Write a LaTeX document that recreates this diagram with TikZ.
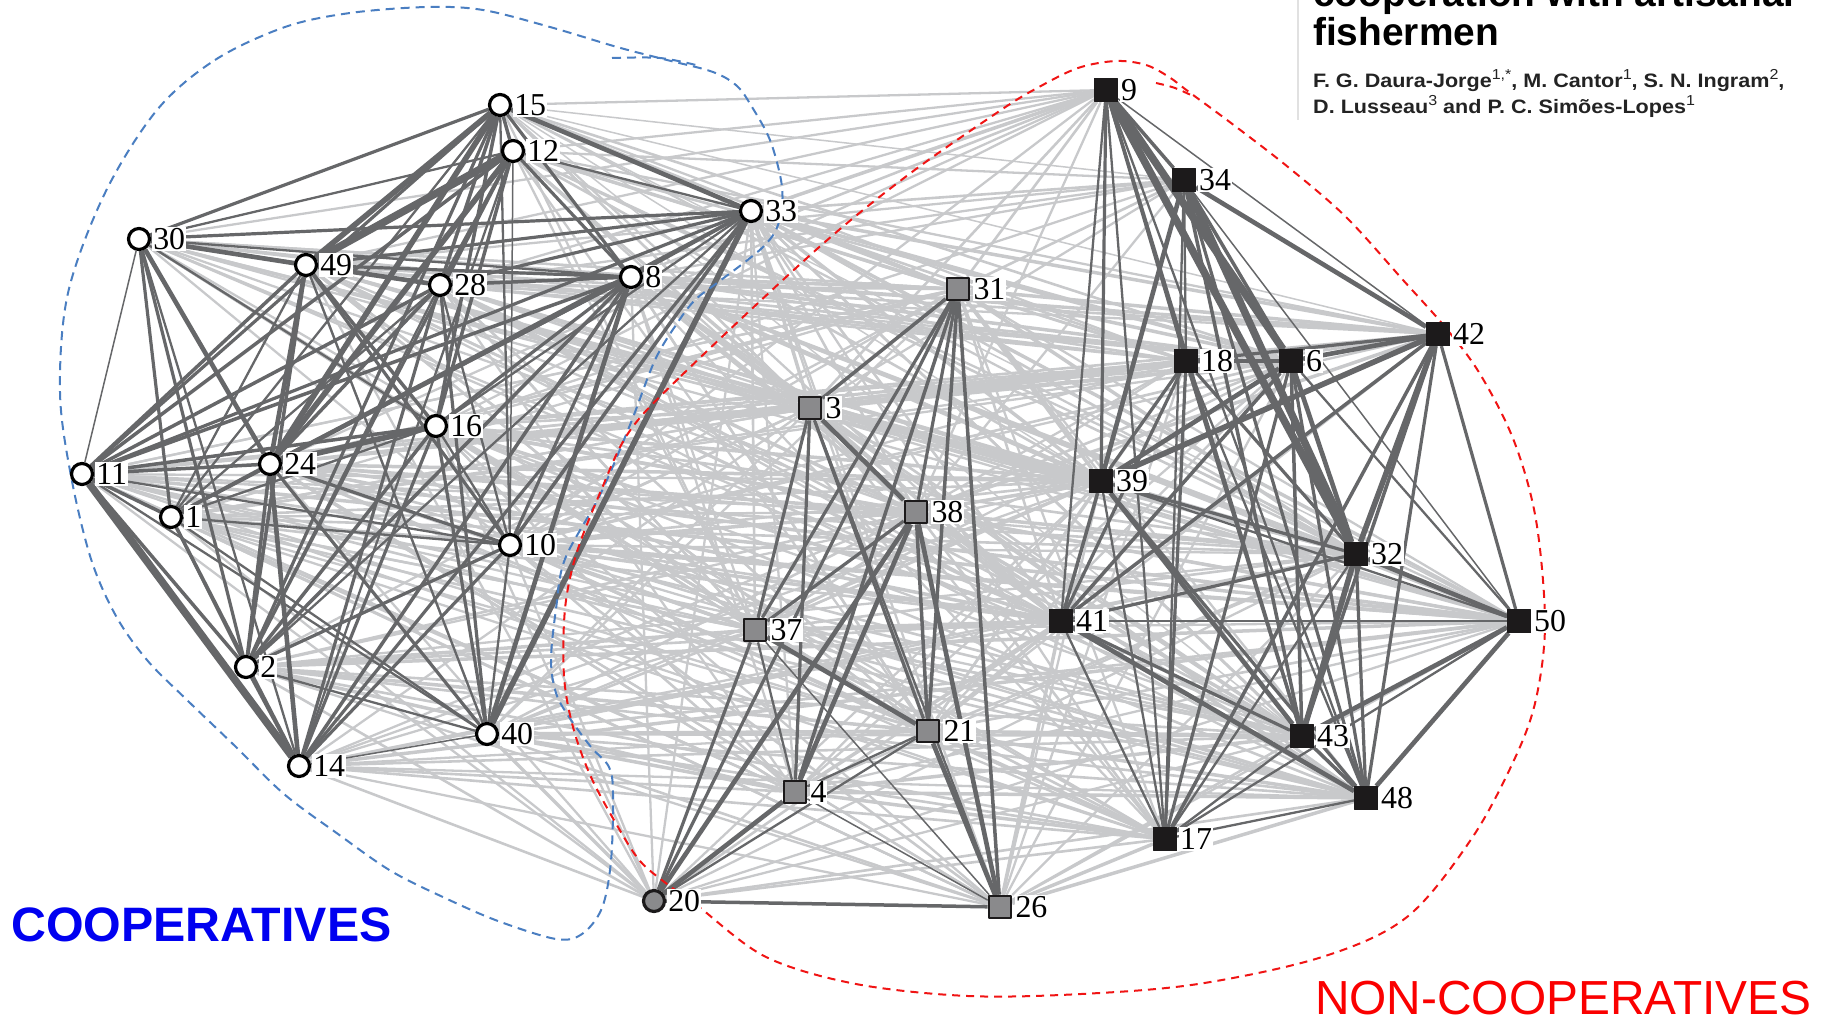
\documentclass[tikz,border=0pt]{standalone}
\usepackage{fontspec}
\setmainfont{Liberation Serif}
\newfontfamily\headfont{Liberation Sans}
\usetikzlibrary{shapes}
\definecolor{strongedge}{RGB}{102,103,105}
\definecolor{weakedge}{RGB}{200,201,203}
\definecolor{midfill}{RGB}{138,138,140}
\definecolor{nonfill}{RGB}{28,26,27}
\definecolor{coopblue}{RGB}{0,0,240}
\definecolor{noncoopred}{RGB}{250,0,0}
\definecolor{bluedash}{RGB}{74,126,193}
\definecolor{reddash}{RGB}{240,20,20}
\definecolor{rulegray}{RGB}{225,225,225}
\definecolor{authorgray}{RGB}{35,35,35}
\newcommand{\aff}[1]{\raisebox{0.4em}{\mdseries\fontsize{14.5}{14.5}\selectfont #1}}
\pgfdeclarelayer{weaklayer}
\pgfdeclarelayer{stronglayer}
\pgfsetlayers{weaklayer,stronglayer,main}

\begin{document}
\begin{tikzpicture}[x=1bp,y=-1bp,line join=bevel,
  coop/.style={circle,draw=black,fill=white,line width=3.2bp,minimum size=21bp,inner sep=0pt},
  mixed/.style={circle,draw=nonfill,fill=midfill,line width=3.2bp,minimum size=21bp,inner sep=0pt},
  midsq/.style={rectangle,draw=nonfill,fill=midfill,line width=2.6bp,minimum size=22bp,inner sep=0pt},
  nonsq/.style={rectangle,draw=nonfill,fill=nonfill,line width=1bp,minimum size=23bp,inner sep=0pt},
  labeltext/.style={anchor=west,fill=white,inner sep=1bp,font=\fontsize{32}{32}\selectfont},
  strong/.style={draw=strongedge,line width=3.2bp},
  weak/.style={draw=weakedge,line width=2.6bp},
  w1/.style={line width=1.5bp},w2/.style={line width=2.3bp},w3/.style={line width=3.5bp},
  w4/.style={line width=4.6bp},w5/.style={line width=5.6bp},w7/.style={line width=7.5bp},
  bluehull/.style={draw=bluedash,line width=2bp,dash pattern=on 9bp off 6bp},
  redhull/.style={draw=reddash,line width=2bp,dash pattern=on 8bp off 6bp},
  ]
\useasboundingbox (0,0) rectangle (1825,1023);
%% group outlines
\draw [bluehull] plot [smooth cycle,tension=0.55] coordinates {(157,110) (215,60) (285,27) (350,13) (427,7) (483,10) (550,27) (617,47) (667,60) (713,72) (737,86) (752,107) (770,140) (781,180) (782,207) (776,230) (764,246) (745,262) (717,283) (695,300) (678,322) (655,360) (630,425) (600,495) (565,559) (556,609) (551,660) (556,693) (569,717) (591,747) (609,767) (613,794) (611,861) (602,908) (582,934) (556,939) (498,921) (445,898) (391,871) (338,834) (284,794) (236,747) (187,700) (147,660) (116,616) (91,559) (71,476) (60,392) (68,293) (105,193)};
\draw [bluehull] plot [smooth,tension=0.55] coordinates {(612,58) (660,58) (700,66)};
\draw [redhull] plot [smooth cycle,tension=0.55] coordinates {(629,432) (681,376) (817,249) (908,175) (1001,110) (1039,87) (1078,68) (1116,61) (1146,65) (1169,77) (1189,92) (1231,123) (1288,167) (1346,217) (1403,280) (1445,327) (1480,374) (1514,441) (1536,520) (1545,623) (1536,699) (1515,758) (1472,838) (1407,917) (1322,957) (1198,984) (1081,994) (968,996) (856,984) (766,957) (699,907) (667,884) (640,861) (618,827) (591,777) (573,727) (564,676) (565,609) (576,555) (600,493)};
\draw [redhull] plot [smooth,tension=0.55] coordinates {(1156,83) (1175,88) (1195,97)};
%% cooperatives
\node (node_15) at (500,105) [coop] {};
  \node (node_12) at (513,151) [coop] {};
  \node (node_30) at (139,239) [coop] {};
  \node (node_49) at (306,265) [coop] {};
  \node (node_28) at (440,285) [coop] {};
  \node (node_8) at (631,277) [coop] {};
  \node (node_33) at (751,211) [coop] {};
  \node (node_16) at (436,426) [coop] {};
  \node (node_11) at (82,474) [coop] {};
  \node (node_24) at (270,464) [coop] {};
  \node (node_1) at (171,517) [coop] {};
  \node (node_10) at (510,545) [coop] {};
  \node (node_2) at (246,667) [coop] {};
  \node (node_40) at (487,734) [coop] {};
  \node (node_14) at (299,766) [coop] {};
  \node (node_20) at (654,901) [mixed] {};
%% gray squares
  \node (node_31) at (958,289) [midsq] {};
  \node (node_3) at (810,408) [midsq] {};
  \node (node_38) at (916,512) [midsq] {};
  \node (node_37) at (755,630) [midsq] {};
  \node (node_21) at (928,731) [midsq] {};
  \node (node_4) at (795,792) [midsq] {};
  \node (node_26) at (1000,907) [midsq] {};
%% black squares
  \node (node_9) at (1106,90) [nonsq] {};
  \node (node_34) at (1184,180) [nonsq] {};
  \node (node_42) at (1438,334) [nonsq] {};
  \node (node_18) at (1186,361) [nonsq] {};
  \node (node_6) at (1291,361) [nonsq] {};
  \node (node_39) at (1101,481) [nonsq] {};
  \node (node_32) at (1356,554) [nonsq] {};
  \node (node_41) at (1061,621) [nonsq] {};
  \node (node_50) at (1519,621) [nonsq] {};
  \node (node_43) at (1302,736) [nonsq] {};
  \node (node_48) at (1366,798) [nonsq] {};
  \node (node_17) at (1165,839) [nonsq] {};
%% labels
\node (label_15) at ([xshift=1bp]node_15.east) [labeltext] {15};
  \node (label_12) at ([xshift=1bp]node_12.east) [labeltext] {12};
  \node (label_30) at ([xshift=1bp]node_30.east) [labeltext] {30};
  \node (label_49) at ([xshift=1bp]node_49.east) [labeltext] {49};
  \node (label_28) at ([xshift=1bp]node_28.east) [labeltext] {28};
  \node (label_8) at ([xshift=1bp]node_8.east) [labeltext] {8};
  \node (label_33) at ([xshift=1bp]node_33.east) [labeltext] {33};
  \node (label_16) at ([xshift=1bp]node_16.east) [labeltext] {16};
  \node (label_11) at ([xshift=1bp]node_11.east) [labeltext] {11};
  \node (label_24) at ([xshift=1bp]node_24.east) [labeltext] {24};
  \node (label_1) at ([xshift=1bp]node_1.east) [labeltext] {1};
  \node (label_10) at ([xshift=1bp]node_10.east) [labeltext] {10};
  \node (label_2) at ([xshift=1bp]node_2.east) [labeltext] {2};
  \node (label_40) at ([xshift=1bp]node_40.east) [labeltext] {40};
  \node (label_14) at ([xshift=1bp]node_14.east) [labeltext] {14};
  \node (label_20) at ([xshift=1bp]node_20.east) [labeltext] {20};
  \node (label_31) at ([xshift=2bp]node_31.east) [labeltext] {31};
  \node (label_3) at ([xshift=2bp]node_3.east) [labeltext] {3};
  \node (label_38) at ([xshift=2bp]node_38.east) [labeltext] {38};
  \node (label_37) at ([xshift=2bp]node_37.east) [labeltext] {37};
  \node (label_21) at ([xshift=2bp]node_21.east) [labeltext] {21};
  \node (label_4) at ([xshift=2bp]node_4.east) [labeltext] {4};
  \node (label_26) at ([xshift=2bp]node_26.east) [labeltext] {26};
  \node (label_9) at ([xshift=2bp]node_9.east) [labeltext] {9};
  \node (label_34) at ([xshift=2bp]node_34.east) [labeltext] {34};
  \node (label_42) at ([xshift=2bp]node_42.east) [labeltext] {42};
  \node (label_18) at ([xshift=2bp]node_18.east) [labeltext] {18};
  \node (label_6) at ([xshift=2bp]node_6.east) [labeltext] {6};
  \node (label_39) at ([xshift=2bp]node_39.east) [labeltext] {39};
  \node (label_32) at ([xshift=2bp]node_32.east) [labeltext] {32};
  \node (label_41) at ([xshift=2bp]node_41.east) [labeltext] {41};
  \node (label_50) at ([xshift=2bp]node_50.east) [labeltext] {50};
  \node (label_43) at ([xshift=2bp]node_43.east) [labeltext] {43};
  \node (label_48) at ([xshift=2bp]node_48.east) [labeltext] {48};
  \node (label_17) at ([xshift=2bp]node_17.east) [labeltext] {17};
%% texts
\node (coop_title) at (11,925) [anchor=west,inner sep=0pt,text=coopblue,font=\headfont\bfseries\fontsize{48.5}{48.5}\selectfont] {COOPERATIVES};
  \node (noncoop_title) at (1315,998) [anchor=west,inner sep=0pt,text=noncoopred,font=\headfont\fontsize{48}{48}\selectfont] {NON-COOPERATIVES};
  \node (paper_title_a) at (1313,6) [anchor=base west,inner sep=0pt,font=\headfont\bfseries\fontsize{39}{39}\selectfont] {cooperation with artisanal};
  \node (paper_title_b) at (1313,45) [anchor=base west,inner sep=0pt,font=\headfont\bfseries\fontsize{39}{39}\selectfont] {fishermen};
  \node (authors_a) at (1313,87) [anchor=base west,inner sep=0pt,xscale=1.11,text=authorgray,font=\headfont\bfseries\fontsize{19.5}{20}\selectfont] {F. G. Daura-Jorge\aff{1,*}, M. Cantor\aff{1}, S. N. Ingram\aff{2},};
  \node (authors_b) at (1313,113) [anchor=base west,inner sep=0pt,xscale=1.11,text=authorgray,font=\headfont\bfseries\fontsize{19.5}{20}\selectfont] {D. Lusseau\aff{3} and P. C. Simões-Lopes\aff{1}};
  \coordinate (rule_top) at (1298,0);
  \coordinate (rule_bottom) at (1298,120);
  \draw [draw=rulegray,line width=1.5bp] (rule_top) -- (rule_bottom);
%% weak ties
\begin{pgfonlayer}{weaklayer}
\draw [weak] (node_15) edge[w2] (node_9) edge[w1] (node_34) edge (node_31) edge (node_6) edge[w1] (node_42) edge[w1] (node_3) edge[w1] (node_39) edge[w2] (node_18) edge[w2] (node_32) edge[w2] (node_41) edge[w2] (node_38) edge[w1] (node_50) edge[w1] (node_43);
  \draw [weak] (node_12) edge[w2] (node_9) edge[w3] (node_31) edge[w2] (node_34) edge[w2] (node_18) edge[w2] (node_3) edge (node_6) edge[w2] (node_42) edge[w2] (node_38) edge (node_39) edge (node_32) edge[w2] (node_41) edge[w2] (node_50) edge[w2] (node_21) edge[w2] (node_37);
  \draw [weak] (node_30) edge[w2] (node_10) edge[w2] (node_31) edge[w2] (node_3) edge[w2] (node_39) edge[w2] (node_38) edge[w2] (node_41) edge[w2] (node_16) edge[w2] (node_9) edge[w2] (node_42) edge (node_6) edge[w2] (node_18) edge (node_32) edge[w2] (node_50) edge[w2] (node_43) edge[w2] (node_21) edge (node_37) edge[w2] (node_17);
  \draw [weak] (node_49) edge (node_31) edge[w3] (node_3) edge[w2] (node_18) edge (node_39) edge[w2] (node_6) edge[w2] (node_38) edge[w2] (node_32) edge[w2] (node_40) edge[w2] (node_9) edge (node_42) edge[w2] (node_34) edge (node_41) edge (node_43) edge[w2] (node_50) edge (node_21) edge (node_37) edge[w2] (node_48);
  \draw [weak] (node_28) edge (node_31) edge (node_3) edge[w3] (node_39) edge[w2] (node_18) edge[w2] (node_41) edge[w3] (node_38) edge[w2] (node_42) edge[w2] (node_9) edge (node_6) edge (node_32) edge[w2] (node_34) edge (node_43) edge[w2] (node_50) edge (node_37) edge (node_21) edge[w2] (node_4) edge[w2] (node_48);
  \draw [weak] (node_8) edge[w3] (node_31) edge[w3] (node_3) edge[w4] (node_39) edge (node_9) edge (node_42) edge[w3] (node_6) edge[w2] (node_34) edge (node_18) edge[w3] (node_38) edge[w3] (node_32) edge (node_41) edge[w2] (node_37) edge (node_43) edge[w3] (node_50) edge (node_48) edge (node_21) edge[w2] (node_17) edge[w2] (node_4);
  \draw [weak] (node_33) edge[w3] (node_9) edge[w3] (node_31) edge (node_34) edge[w3] (node_6) edge[w3] (node_42) edge (node_18) edge[w3] (node_39) edge[w3] (node_3) edge (node_38) edge (node_32) edge (node_41) edge[w2] (node_43) edge[w2] (node_21) edge (node_48) edge[w3] (node_50) edge[w2] (node_17) edge (node_37) edge[w2] (node_4) edge[w2] (node_26);
  \draw [weak] (node_16) edge[w3] (node_39) edge[w3] (node_41) edge (node_3) edge[w3] (node_38) edge[w2] (node_31) edge[w2] (node_18) edge (node_32) edge[w2] (node_37) edge[w2] (node_43) edge[w2] (node_6) edge[w2] (node_11) edge (node_42) edge[w3] (node_50) edge (node_48) edge (node_21) edge[w2] (node_4) edge[w2] (node_17) edge[w2] (node_34) edge[w2] (node_9) edge[w2] (node_26);
  \draw [weak] (node_11) edge (node_41) edge[w2] (node_38) edge[w2] (node_39) edge[w2] (node_37) edge[w2] (node_21) edge[w2] (node_3) edge[w2] (node_42) edge (node_6) edge[w2] (node_18) edge (node_32) edge[w2] (node_43) edge[w3] (node_50) edge (node_48) edge[w2] (node_17) edge[w2] (node_4) edge[w2] (node_31) edge[w2] (node_26);
  \draw [weak] (node_24) edge[w3] (node_41) edge[w3] (node_39) edge[w3] (node_38) edge (node_3) edge[w3] (node_37) edge (node_21) edge[w2] (node_32) edge (node_43) edge[w2] (node_17) edge[w3] (node_42) edge (node_6) edge[w2] (node_18) edge[w3] (node_50) edge (node_48) edge[w2] (node_31) edge (node_4) edge[w2] (node_26) edge[w2] (node_9);
  \draw [weak] (node_1) edge (node_41) edge (node_37) edge[w2] (node_21) edge[w2] (node_38) edge[w2] (node_43) edge[w2] (node_4) edge[w2] (node_16) edge (node_39) edge (node_32) edge[w2] (node_42) edge[w3] (node_50) edge (node_48) edge[w2] (node_17) edge[w2] (node_3) edge[w2] (node_6) edge[w2] (node_26) edge[w2] (node_31);
  \draw [weak] (node_10) edge[w3] (node_41) edge[w3] (node_38) edge[w3] (node_37) edge (node_3) edge[w3] (node_21) edge (node_4) edge (node_43) edge (node_39) edge[w2] (node_48) edge[w2] (node_17) edge[w2] (node_32) edge[w2] (node_20) edge[w2] (node_42) edge (node_6) edge[w2] (node_18) edge[w3] (node_50) edge[w2] (node_31) edge (node_26) edge[w2] (node_9);
  \draw [weak] (node_2) edge[w3] (node_37) edge[w3] (node_21) edge[w3] (node_4) edge (node_20) edge (node_41) edge (node_17) edge (node_48) edge[w2] (node_26) edge (node_38) edge[w2] (node_39) edge (node_43) edge[w2] (node_32) edge[w3] (node_50) edge[w2] (node_3) edge[w2] (node_31);
  \draw [weak] (node_40) edge (node_37) edge[w3] (node_4) edge[w3] (node_21) edge[w3] (node_20) edge (node_26) edge (node_17) edge (node_48) edge (node_43) edge (node_41) edge (node_38) edge[w2] (node_39) edge[w2] (node_32) edge (node_50) edge[w2] (node_3) edge[w2] (node_31);
  \draw [weak] (node_14) edge (node_4) edge (node_20) edge[w2] (node_26) edge (node_17) edge[w2] (node_21) edge[w2] (node_48) edge[w2] (node_37) edge[w2] (node_38) edge (node_41) edge (node_43) edge[w2] (node_39) edge[w2] (node_32) edge[w3] (node_50) edge[w2] (node_3);
  \draw [weak] (node_31) edge (node_9) edge (node_34) edge[w3] (node_42) edge[w3] (node_6) edge (node_18) edge[w3] (node_39) edge[w3] (node_32) edge (node_41) edge[w2] (node_50) edge[w2] (node_43) edge[w2] (node_17) edge[w2] (node_48) edge[w2] (node_30) edge[w2] (node_49) edge (node_24) edge[w2] (node_11);
  \draw [weak] (node_3) edge (node_9) edge[w2] (node_34) edge[w3] (node_42) edge (node_6) edge (node_18) edge[w4] (node_39) edge[w3] (node_32) edge[w3] (node_41) edge (node_50) edge (node_43) edge[w2] (node_48) edge[w2] (node_17) edge (node_24) edge[w2] (node_1);
  \draw [weak] (node_38) edge[w2] (node_9) edge[w3] (node_42) edge (node_6) edge[w3] (node_39) edge[w3] (node_32) edge[w3] (node_41) edge (node_50) edge[w3] (node_43) edge[w3] (node_48) edge (node_17) edge[w2] (node_15) edge[w2] (node_34) edge[w2] (node_18);
  \draw [weak] (node_37) edge (node_39) edge[w3] (node_41) edge (node_32) edge (node_43) edge (node_48) edge (node_17) edge[w2] (node_50) edge[w2] (node_6) edge[w2] (node_42) edge[w2] (node_18) edge[w2] (node_30) edge[w2] (node_49) edge[w2] (node_28) edge[w2] (node_15);
  \draw [weak] (node_21) edge[w3] (node_41) edge (node_39) edge (node_32) edge[w3] (node_43) edge[w3] (node_48) edge[w3] (node_17) edge (node_50) edge[w2] (node_6) edge[w2] (node_42) edge[w2] (node_18) edge[w2] (node_16) edge[w2] (node_49) edge[w2] (node_8);
  \draw [weak] (node_4) edge[w3] (node_41) edge[w3] (node_43) edge[w3] (node_48) edge[w3] (node_17) edge[w2] (node_50) edge[w2] (node_32) edge[w2] (node_39) edge[w2] (node_6) edge[w2] (node_24) edge[w2] (node_16) edge[w2] (node_11);
  \draw [weak] (node_26) edge[w3] (node_41) edge[w3] (node_17) edge[w3] (node_48) edge (node_43) edge[w2] (node_39) edge[w2] (node_32) edge[w2] (node_50) edge[w2] (node_6) edge[w2] (node_18) edge[w2] (node_24) edge[w2] (node_1);
  \draw [weak] (node_20) edge (node_41) edge (node_17) edge (node_48) edge[w2] (node_43) edge[w2] (node_50) edge[w2] (node_32) edge[w2] (node_39) edge[w2] (node_24) edge[w2] (node_1) edge[w2] (node_11) edge[w2] (node_16) edge[w2] (node_49) edge[w2] (node_8) edge[w2] (node_33);
\end{pgfonlayer}
%% strong ties
\begin{pgfonlayer}{stronglayer}
\draw [strong] (node_15) edge[w3] (node_12) edge (node_30) edge[w5] (node_49) edge[w3] (node_28) edge[w5] (node_24) edge (node_11) edge[w3] (node_16) edge (node_8) edge[w4] (node_33) edge[w2] (node_1) edge (node_2) edge[w2] (node_10);
  \draw [strong] (node_12) edge[w7] (node_49) edge[w5] (node_24) edge[w3] (node_11) edge[w3] (node_16) edge (node_28) edge (node_8) edge[w1] (node_10) edge[w2] (node_33) edge[w2] (node_30) edge (node_2) edge[w2] (node_14);
  \draw [strong] (node_30) edge[w4] (node_49) edge (node_33) edge (node_28) edge[w2] (node_8) edge[w4] (node_24) edge[w1] (node_11) edge (node_1) edge (node_2) edge[w2] (node_14) edge[w2] (node_16);
  \draw [strong] (node_49) edge[w4] (node_28) edge (node_33) edge (node_8) edge[w4] (node_24) edge[w3] (node_11) edge[w3] (node_2) edge[w3] (node_16) edge (node_10) edge[w2] (node_40) edge[w2] (node_1);
  \draw [strong] (node_28) edge[w3] (node_8) edge (node_33) edge[w3] (node_24) edge[w3] (node_11) edge (node_14) edge (node_40) edge[w2] (node_10) edge[w2] (node_2) edge[w2] (node_1);
  \draw [strong] (node_8) edge (node_33) edge[w3] (node_24) edge[w3] (node_11) edge (node_16) edge[w3] (node_2) edge[w3] (node_14) edge[w4] (node_40) edge (node_10) edge (node_1);
  \draw [strong] (node_33) edge (node_24) edge (node_11) edge[w2] (node_16) edge[w3] (node_10) edge[w5] (node_40) edge (node_14) edge[w2] (node_2);
  \draw [strong] (node_16) edge[w5] (node_24) edge[w3] (node_11) edge[w2] (node_1) edge[w3] (node_2) edge (node_14) edge (node_40) edge[w2] (node_10);
  \draw [strong] (node_11) edge[w3] (node_24) edge[w3] (node_1) edge[w3] (node_2) edge[w7] (node_14) edge[w2] (node_10) edge[w2] (node_40);
  \draw [strong] (node_24) edge[w3] (node_1) edge[w3] (node_2) edge[w4] (node_14) edge (node_10) edge (node_40);
  \draw [strong] (node_1) edge[w2] (node_10) edge[w2] (node_2) edge[w3] (node_14) edge[w2] (node_40);
  \draw [strong] (node_10) edge (node_2) edge (node_14) edge[w2] (node_40);
  \draw [strong] (node_2) edge[w3] (node_14) edge[w2] (node_40);
  \draw [strong] (node_14) edge[w1] (node_40);
  \draw [strong] (node_31) edge[w3] (node_3) edge (node_38) edge (node_37) edge[w3] (node_21) edge[w3] (node_26) edge[w3] (node_4) edge (node_20);
  \draw [strong] (node_3) edge[w4] (node_38) edge (node_37) edge (node_4) edge (node_21) edge[w2] (node_26);
  \draw [strong] (node_38) edge (node_37) edge[w4] (node_4) edge[w4] (node_20) edge[w3] (node_21) edge[w4] (node_26);
  \draw [strong] (node_37) edge[w4] (node_21) edge[w2] (node_4) edge (node_20) edge[w1] (node_26);
  \draw [strong] (node_21) edge[w2] (node_4) edge[w4] (node_26) edge[w2] (node_20);
  \draw [strong] (node_4) edge[w4] (node_20) edge[w1] (node_26);
  \draw [strong] (node_20) edge[w3] (node_26);
  \draw [strong] (node_9) edge[w3] (node_34) edge (node_18) edge[w7] (node_6) edge[w7] (node_32) edge (node_39) edge (node_43) edge[w2] (node_48) edge[w2] (node_17) edge[w1] (node_42) edge[w2] (node_41);
  \draw [strong] (node_34) edge[w4] (node_42) edge[w2] (node_18) edge[w3] (node_6) edge[w7] (node_32) edge[w4] (node_39) edge[w3] (node_43) edge (node_48) edge[w1] (node_50) edge[w2] (node_17);
  \draw [strong] (node_42) edge[w4] (node_6) edge (node_18) edge[w5] (node_39) edge[w5] (node_32) edge[w3] (node_41) edge[w3] (node_43) edge (node_48) edge (node_50) edge[w3] (node_17);
  \draw [strong] (node_18) edge[w3] (node_6) edge (node_39) edge (node_32) edge (node_41) edge (node_43) edge[w2] (node_48) edge (node_17);
  \draw [strong] (node_6) edge[w4] (node_39) edge[w4] (node_32) edge[w3] (node_41) edge[w3] (node_43) edge (node_48) edge (node_17) edge[w2] (node_50);
  \draw [strong] (node_39) edge (node_32) edge[w3] (node_41) edge[w4] (node_43) edge (node_48) edge[w2] (node_17) edge[w2] (node_50);
  \draw [strong] (node_32) edge (node_41) edge[w5] (node_43) edge (node_48) edge[w4] (node_50) edge[w2] (node_17);
  \draw [strong] (node_41) edge (node_43) edge[w4] (node_48) edge[w1] (node_50) edge[w2] (node_17);
  \draw [strong] (node_50) edge[w4] (node_43) edge[w4] (node_48) edge[w2] (node_17);
  \draw [strong] (node_43) edge[w3] (node_48) edge[w2] (node_17);
  \draw [strong] (node_48) edge[w2] (node_17);
\end{pgfonlayer}
%
\end{tikzpicture}
\end{document}
